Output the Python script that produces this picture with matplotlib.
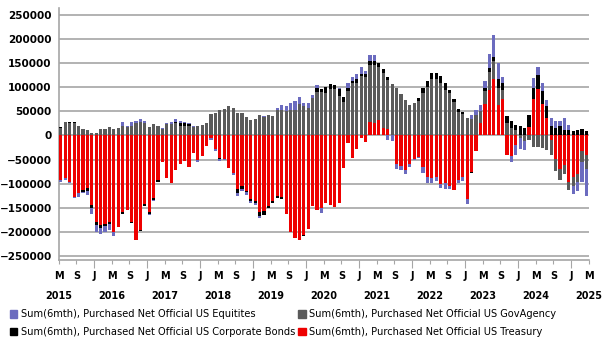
import numpy as np
import pandas as pd
import matplotlib
matplotlib.use('Agg')
import matplotlib.pyplot as plt
from matplotlib.patches import Patch

# monthly bars, May 2015 .. Apr 2025
months = pd.date_range('2015-05-01', periods=120, freq='MS')

# Sum(6mth) values, thousands
treasury = [-93, -88, -96, -127, -120, -114, -108, -145, -179, -186,
            -184, -179, -200, -190, -159, -155, -179, -216, -195, -142,
            -158, -129, -93, -55, -89, -98, -71, -59, -54, -66,
            -37, -51, -42, -21, -5, -28, -46, -49, -67, -77,
            -111, -105, -115, -131, -135, -158, -157, -146, -135, -125,
            -127, -163, -201, -212, -216, -206, -194, -146, -154, -150,
            -140, -145, -148, -140, -67, -15, -47, -28, -6, -14,
            28, 26, 32, 15, 14, 0, -60, -64, -72, -60,
            -48, -44, -66, -87, -89, -86, -101, -98, -105, -113,
            -93, -87, -131, -76, -33, 25, 65, 95, 116, 64,
            75, -41, -43, -19, 0, 0, 17, 75, 96, 66,
            37, -10, -48, -70, -61, -96, -87, -79, -32, -41]
govagency = [15, 27, 26, 25, 19, 14, 12, 6, 5, 13,
             14, 17, 13, 16, 20, 17, 20, 25, 28, 25,
             18, 23, 19, 14, 24, 24, 25, 20, 20, 20,
             17, 19, 21, 25, 45, 47, 52, 55, 60, 56,
             47, 46, 38, 32, 35, 43, 39, 42, 41, 53,
             53, 51, 52, 53, 65, 60, 57, 77, 90, 90,
             88, 97, 97, 82, 70, 91, 108, 109, 123, 122,
             118, 120, 110, 114, 101, 106, 98, 86, 73, 64,
             68, 72, 88, 101, 116, 116, 109, 95, 87, 70,
             49, 45, 37, 33, 42, 25, 28, 36, 38, 35,
             20, 25, 16, 12, -6, -12, -10, -25, -23, -27,
             -30, -31, -26, -22, -19, -17, -18, -17, -23, -28]
corporate = [3, 0, 2, 2, 0, -4, -7, -6, -6, -6,
             -4, -5, 0, 0, -3, 0, -2, 0, -3, -4,
             -5, -5, -3, 0, 0, 0, 2, 5, 5, 3,
             0, 0, 0, 0, 0, 0, -3, 0, 0, 0,
             -8, -6, -3, -5, -6, -9, -8, -5, -5, -4,
             -4, 0, 0, 0, 0, -2, 0, 0, 9, 7,
             12, 10, 7, 15, 10, 8, 5, 7, 5, 5,
             9, 9, 7, 8, 7, 0, 0, 0, 0, 0,
             0, 5, 10, 12, 13, 13, 14, 14, 8, 5,
             5, 4, 0, -2, 0, 0, 6, 8, 8, 18,
             13, 15, 14, 10, 20, 16, 25, 24, 29, 26,
             23, 20, 15, 19, 12, 12, 9, 11, 13, 10]
equities = [-4, -4, -3, -2, -8, -2, -8, -11, -14, -12,
            -11, -12, -9, 0, 7, 3, 7, 5, 5, 4,
            -2, -2, 0, 2, 2, 3.5, 6, 5, 3.5, 2,
            3, -4, 0, 0, -4, -5, -4, -1, 0, -5,
            -6, -4, -6, -5, -3, -4, 1, 0, 0, 3,
            9, 9, 16, 18, 15, 8, 10, 6, 5, -10,
            0, 0, 0, 2, 0, 10, 8, 12, 14, 7,
            12, 12, 0, 0, -9, -11, -10, -7, -8, -5,
            -3, -3.5, -11, -11, -10, -8, -7, -12, -7, 0,
            -5.5, -7, -12, 10, 11, 14, 14, 30, 46, 34,
            12, 0, -12, -21, -22, -18, 0, 19, 16, 17,
            14, 17, 15, 10, 24, 9, -17, -19, -42, -57]

names = ['Sum(6mth), Purchased Net Official US Treasury',
         'Sum(6mth), Purchased Net Official US GovAgency',
         'Sum(6mth), Purchased Net Official US Corporate Bonds',
         'Sum(6mth), Purchased Net Official US Equitites']
colors = ['#ee0000', '#5a5a5a', '#000000', '#6b6bbf']

fig = plt.figure(figsize=(6.03, 3.52), dpi=100)
ax = fig.add_axes([0.0973, 0.2614, 0.879, 0.716])

x = np.arange(len(months)) + 0.5
pos_base = np.zeros(len(months))
neg_base = np.zeros(len(months))
for vals, col in zip([treasury, govagency, corporate, equities], colors):
    v = np.array(vals, dtype=float) * 1000
    up = np.where(v > 0, v, 0)
    dn = np.where(v < 0, v, 0)
    ax.bar(x, up, 0.72, bottom=pos_base, color=col, linewidth=0, zorder=3)
    ax.bar(x, dn, 0.72, bottom=neg_base, color=col, linewidth=0, zorder=3)
    pos_base += up
    neg_base += dn

ax.set_xlim(0, 120)
ax.set_ylim(-258000, 264000)
ax.set_yticks(np.arange(-250000, 250001, 50000))
ax.yaxis.grid(True, color='#a6a6a6', linewidth=1.2, zorder=0)
ax.tick_params(axis='y', length=0, pad=5)
for s in ['top', 'right']:
    ax.spines[s].set_visible(False)
for s in ['left', 'bottom']:
    ax.spines[s].set_color('#a6a6a6')
    ax.spines[s].set_linewidth(1.2)

# M / S / J labels every four months, year under May
tick_dates = pd.date_range('2015-05-01', '2025-05-01', freq='4MS')
tick_pos = np.arange(0, 121, 4)
tick_labels = [d.strftime('%b')[0] + ('\n' + str(d.year) if d.month == 5 else '')
               for d in tick_dates]
ax.set_xticks(tick_pos)
ax.set_xticklabels(tick_labels)
ax.tick_params(axis='x', length=3, color='#a6a6a6', pad=5)
for t, d in zip(ax.xaxis.get_major_ticks(), tick_dates):
    if d.month == 1:
        t.tick1line.set_markersize(6)

for lab in ax.get_yticklabels():
    lab.set_fontfamily('DejaVu Sans')
    lab.set_fontweight('bold')
    lab.set_fontsize(7.5)
for lab in ax.get_xticklabels():
    lab.set_fontfamily('DejaVu Sans')
    lab.set_fontweight('bold')
    lab.set_fontsize(7)
    lab.set_linespacing(2.3)

handles = [Patch(color=colors[3], label=names[3]),
           Patch(color=colors[2], label=names[2]),
           Patch(color=colors[1], label=names[1]),
           Patch(color=colors[0], label=names[0])]
fig.legend(handles=handles, ncol=2, loc='upper left', bbox_to_anchor=(0.01, 0.132),
           frameon=False, handlelength=0.75, handleheight=0.75, handletextpad=0.35,
           columnspacing=0.3, labelspacing=0.78, borderaxespad=0,
           prop={'family': 'DejaVu Sans', 'size': 7.1})

fig.savefig('out.png', dpi=100)
